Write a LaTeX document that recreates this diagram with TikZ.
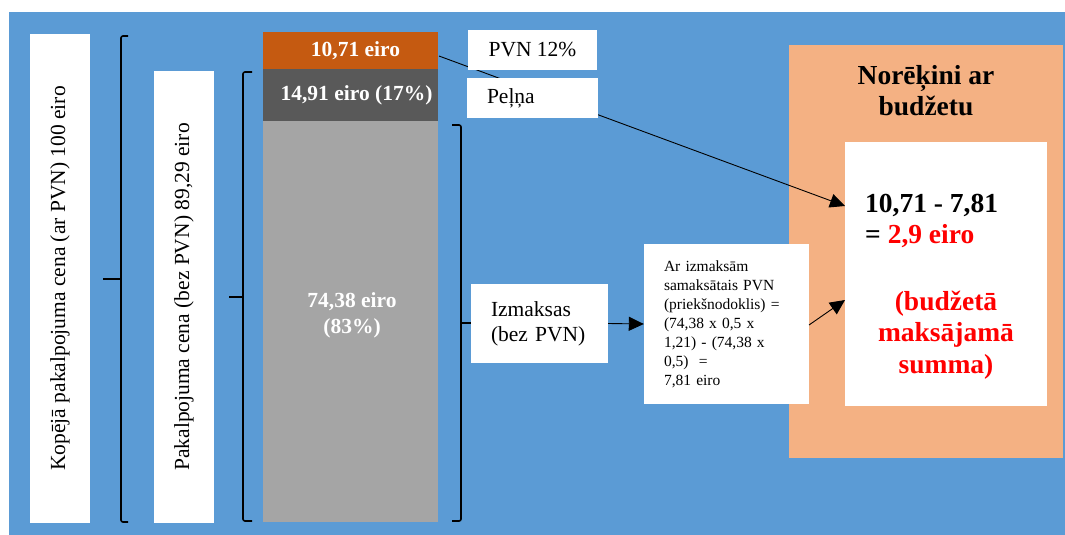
\documentclass[tikz,border=0pt]{standalone}
\usepackage{fontspec}
\setmainfont{Liberation Serif}
\usetikzlibrary{arrows.meta}
\definecolor{bgblue}{HTML}{5B9BD5}
\definecolor{vatorange}{HTML}{C55A11}
\definecolor{profitgrey}{HTML}{595959}
\definecolor{costgrey}{HTML}{A5A5A5}
\definecolor{salmon}{HTML}{F4B183}
\definecolor{hotred}{HTML}{FF0000}
\begin{document}
\begin{tikzpicture}[x=1pt,y=-1pt,
  wbox/.style={fill=white, draw=none, inner sep=0pt, font=\fontsize{21.5}{25}\selectfont},
  barpart/.style={inner sep=0pt, minimum width=175pt, text=white, font=\bfseries\fontsize{21.5}{26}\selectfont},
  bracepath/.style={line width=1.6pt, rounded corners=2pt},
  arr/.style={line width=0.9pt, -{Triangle[length=15pt,width=14pt]}},
  bigtxt/.style={inner sep=0pt, font=\bfseries\fontsize{27.5}{31.5}\selectfont}]
\useasboundingbox (0,0) rectangle (1065,535);
\fill[bgblue] (9,12) rectangle (1065,535);

% left white boxes with rotated text
\node[wbox, minimum width=60pt, minimum height=489pt] (total) at (60,278.5) {};
\node[inner sep=0pt, rotate=90, font=\fontsize{21.5}{25}\selectfont] (totaltxt) at (60,278.5) {Kopējā pakalpojuma cena (ar PVN) 100 eiro};
\node[wbox, minimum width=60pt, minimum height=452pt] (net) at (184,297) {};
\node[inner sep=0pt, rotate=90, font=\fontsize{21.5}{25}\selectfont] (nettxt) at (184,297) {Pakalpojuma cena (bez PVN) 89,29 eiro};

% braces
\draw[bracepath] (128,36) -- (121,36) -- (121,522) -- (128,522);
\draw[bracepath] (121,279) -- (103,279);
\draw[bracepath] (252,72) -- (243,72) -- (243,521) -- (252,521);
\draw[bracepath] (243,297) -- (229,297);
\draw[bracepath] (452,125) -- (461,125) -- (461,521) -- (452,521);
\draw[bracepath] (461,323) -- (471,323);

% stacked bar
\node[barpart, fill=vatorange, minimum height=37pt] (vat) at (350.5,50.5) {\hspace*{10pt}10,71 eiro};
\node[barpart, fill=profitgrey, minimum height=52pt] (profit) at (350.5,95) {\hspace*{12pt}14,91 eiro (17\%)};
\node[barpart, fill=costgrey, minimum height=401pt] (cost) at (350.5,321.5) {};
\node[inner sep=0pt, text=white, align=center, font=\bfseries\fontsize{21.5}{26}\selectfont] (costtxt) at (352,315) {74,38 eiro\\(83\%)};

% outer budget box
\node[fill=salmon, inner sep=0pt, minimum width=274pt, minimum height=413pt] (budget) at (926,251.5) {};
\node[bigtxt, align=center] (budgettitle) at (926,90.5) {Norēķini ar\\budžetu};
\node[fill=white, inner sep=0pt, minimum width=202pt, minimum height=264pt] (result) at (946,274) {};
\node[bigtxt, align=left, anchor=west] (resulttxt) at (865,221) {10,71 - 7,81\\= \textcolor{hotred}{2,9 eiro}};
\node[bigtxt, align=center, text=hotred] (resultnote) at (946,335) {(budžetā\\maksājamā\\summa)};

% arrow from VAT to result (behind label boxes)
\coordinate (vatout) at (439,56);
\coordinate (resultin1) at (845,206);
\draw[arr] (vatout) -- (resultin1);

% label boxes
\node[wbox, minimum width=129pt, minimum height=40pt] (vatlbl) at (532.5,50) {PVN 12\%};
\node[wbox, minimum width=131pt, minimum height=40pt, text width=131pt, align=left, inner xsep=0pt] (profitlbl) at (532.5,98) {\hspace*{20pt}Peļņa};
\node[wbox, minimum width=137pt, minimum height=79pt, text width=97pt, inner xsep=0pt, align=left] (costlbl) at (539.5,323.5) {Izmaksas\\(bez PVN)};
\node[fill=white, inner xsep=0pt, inner ysep=0pt, minimum width=165pt, minimum height=160pt, text width=125pt, align=left, font=\fontsize{15.5}{19}\selectfont] (calc) at (726.5,324) {Ar izmaksām\\samaksātais PVN\\(priekšnodoklis) =\\(74,38 x 0,5 x\\1,21) - (74,38 x\\0,5)\ \ =\\7,81 eiro};

% arrows
\coordinate (resultin2) at (845,300);
\coordinate (calcout) at (809,325);
\draw[arr] (costlbl.east) -- (calc.west);
\draw[arr] (calcout) -- (resultin2);
\end{tikzpicture}
\end{document}
